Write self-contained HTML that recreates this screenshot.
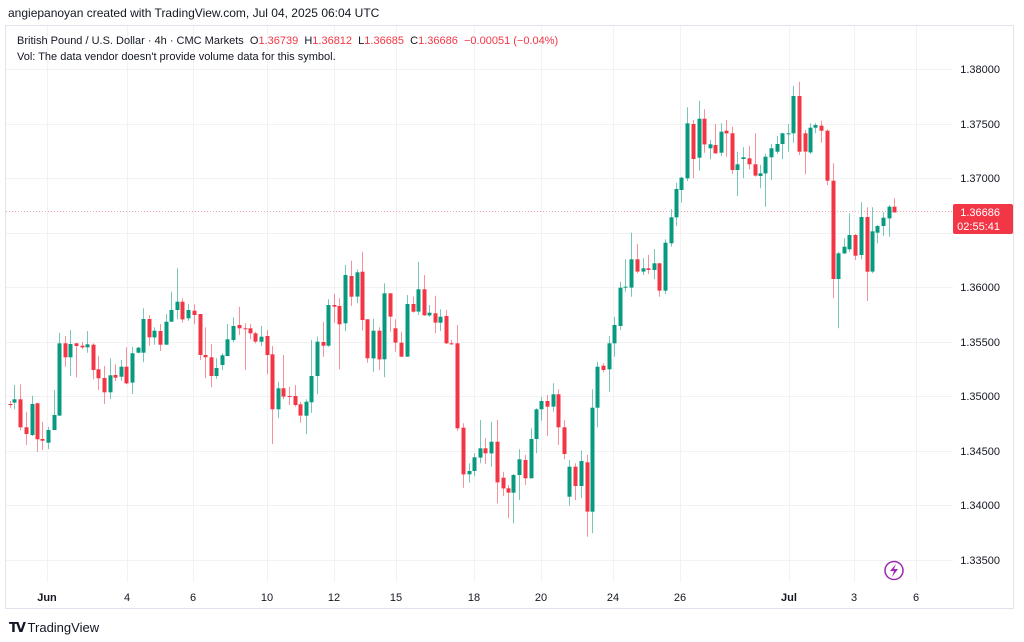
<!DOCTYPE html>
<html><head><meta charset="utf-8"><style>
body{margin:0;width:1024px;height:642px;background:#fff;overflow:hidden;font-family:"Liberation Sans",sans-serif;}
#hdr{position:absolute;left:8px;top:6px;font-size:12px;color:#131722;}
#leg{position:absolute;left:17px;top:33px;font-size:11px;color:#131722;line-height:16px;}
#leg .r{color:#f23645;}
#tv{position:absolute;left:9px;top:620px;font-size:13px;color:#131722;}
svg{position:absolute;left:0;top:0;}
</style></head><body>
<svg id="s" width="1024" height="642" xmlns="http://www.w3.org/2000/svg"></svg>
<div id="hdr">angiepanoyan created with TradingView.com, Jul 04, 2025 06:04 UTC</div>
<div id="leg">British Pound / U.S. Dollar · 4h · CMC Markets &nbsp;O<span class="r">1.36739</span>&nbsp; H<span class="r">1.36812</span>&nbsp; L<span class="r">1.36685</span>&nbsp; C<span class="r">1.36686</span>&nbsp; <span class="r">−0.00051 (−0.04%)</span><br>Vol: The data vendor doesn't provide volume data for this symbol.</div>
<div id="tv"><b style="font-family:'DejaVu Sans';font-weight:900;letter-spacing:-2px">TV</b>&nbsp;TradingView</div>
<script>
var G='#089981',R='#f23645';
var segs=[
[5,250,[[16,'r',462,464],[28,'g',448,458,405,478],[46,'r',448,532,403,540],[62,'r',532,552,485,585],[80,'g',462,555,437,558],[96,'r',460,568,458,605],[112,'r',567,572,515,600],[128,'g',540,578,530,598],[146,'g',495,540,420,540],[162,'g',280,497,248,497],[180,'r',280,322,258,350],[196,'g',282,322,240,378],[212,'r',280,288,278,382],[230,'r',287,292,277,297],[246,'g',283,292,243,308],[264,'r',284,360,280,388],[280,'r',358,385,317,420],[296,'r',384,427,348,462],[314,'g',376,427,325,447],[330,'r',375,383,343,393],[348,'g',350,380,330,392],[364,'r',350,400,292,403],[382,'g',310,398,290,432],[398,'g',293,308,290,310],[414,'g',207,308,175,337],[432,'r',207,262,195,288],[448,'g',242,262,232,284],[464,'r',243,284,222,303],[482,'g',215,284,192,284],[498,'g',180,215,125,215],[516,'g',155,180,55,208],[532,'r',155,208,145,218],[550,'g',180,205,162,212],[566,'r',182,195,163,223],[584,'r',192,315,192,330],[600,'r',315,322,232,385],[618,'r',322,378,282,412],[632,'g',354,378,325,386],[650,'g',316,345,310,360],[666,'g',268,318,222,318]]],
[230,240,[[9,'g',258,300,232,307],[26,'r',255,265,200,285],[44,'r',265,267,250,390],[60,'r',265,280,252,298],[76,'r',280,305,275,310],[92,'g',290,305,258,318],[110,'r',288,345,270,403],[126,'r',343,508,318,612],[144,'g',445,508,425,535],[160,'r',445,470,345,478],[178,'r',468,470,440,495],[194,'r',468,495,435,500],[210,'r',493,527,485,548],[228,'g',485,527,478,583],[244,'g',408,487,300,518],[260,'g',305,408,290,463],[278,'r',306,317,245,350],[294,'g',195,317,178,320],[312,'r',195,200,162,248],[328,'r',198,253,175,388],[346,'g',105,250,75,273],[362,'r',108,170,62,198],[380,'g',97,170,88,190],[396,'r',95,240,35,272],[412,'r',238,355,238,368],[430,'g',272,355,236,395],[446,'r',272,358,262,390],[462,'g',160,358,130,412],[480,'r',160,230,160,275],[496,'r',265,308,238,335],[514,'r',308,350,275,352],[530,'g',192,350,165,350],[548,'r',192,215,170,218],[564,'g',148,215,65,225],[582,'r',148,226,105,228],[598,'g',218,226,195,230],[614,'r',220,248,167,280],[630,'g',230,248,208,273],[648,'r',228,310,210,312],[664,'r',310,312,300,315]]],
[450,220,[[21,'r',370,625,315,633],[38,'r',623,763,610,803],[56,'g',753,763,730,788],[72,'g',712,753,700,768],[90,'g',685,713,600,730],[106,'r',685,700,655,732],[124,'g',665,700,605,740],[142,'r',665,787,600,850],[158,'r',773,805,755,828],[174,'r',805,818,795,895],[190,'g',765,818,762,910],[208,'g',718,765,688,840],[224,'r',720,775,705,795],[242,'g',657,775,625,775],[258,'g',568,657,565,700],[274,'g',543,568,530,602],[290,'r',543,560,525,648],[308,'g',523,560,490,575],[324,'r',523,622,508,675],[342,'r',622,702,600,718],[358,'g',740,830,720,857],[376,'r',740,798,730,840],[392,'g',723,798,692,835],[410,'r',727,875,705,950],[426,'g',563,875,508,940],[442,'g',440,563,425,622],[458,'r',437,450,430,457],[476,'g',370,448,348,515],[492,'g',315,370,290,410],[510,'g',203,318,185,330],[526,'g',200,203,118,215],[544,'g',118,203,38,230],[560,'r',118,155,72,160],[578,'g',145,155,115,165],[594,'r',145,150,105,162],[612,'g',130,150,88,178],[628,'r',130,212,128,230],[644,'g',68,212,58,222]]],
[660,80,[[32,'g',412,490,388,500],[48,'g',327,412,308,438],[64,'g',293,330,290,368],[82,'g',130,295,82,303],[98,'r',132,237,120,295],[116,'g',116,233,62,272],[132,'r',116,193,88,218],[150,'g',193,205,180,238],[166,'r',195,220,132,222],[182,'g',155,218,130,228],[198,'r',152,160,120,230],[216,'r',160,270,140,282],[232,'g',253,270,215,348],[250,'g',232,237,202,295],[266,'r',235,253,198,268],[284,'r',253,287,160,290],[300,'g',280,288,255,325],[316,'g',230,280,222,380],[332,'g',205,232,192,300],[350,'g',192,215,168,222],[366,'g',160,192,158,238],[384,'g',160,162,132,215],[400,'g',48,160,18,188],[418,'r',48,215,5,225],[434,'r',160,215,150,283],[450,'g',143,217,130,222],[466,'g',135,143,130,160],[484,'r',137,152,122,188],[500,'r',152,302,148,315],[518,'r',302,597,250,655],[534,'g',520,597,515,745],[552,'g',500,520,475,522],[568,'g',465,508,400,515],[584,'r',465,527,462,540],[602,'g',411,525,367,538],[620,'r',411,575,382,663],[636,'g',454,575,382,580],[652,'g',438,458,435,490],[668,'g',413,438,397,468],[686,'g',380,415,375,470],[702,'r',380,397,355,398]]]];
var s='';
s+='<rect x="5.5" y="25.5" width="1008" height="583" fill="none" stroke="#e0e3eb"/>';
var ys=[69,124,178,233,287,342,396,451,505,560];
var pl=['1.38000','1.37500','1.37000','1.36500','1.36000','1.35500','1.35000','1.34500','1.34000','1.33500'];
ys.forEach(function(y){s+='<line x1="6" x2="953" y1="'+(y+.5)+'" y2="'+(y+.5)+'" stroke="#f2f2f4"/>';});
var xs=[[47,'Jun',1],[127,'4'],[193,'6'],[267,'10'],[334,'12'],[396,'15'],[474,'18'],[541,'20'],[613,'24'],[680,'26'],[789,'Jul',1],[854,'3'],[916,'6']];
xs.forEach(function(a){s+='<line x1="'+(a[0]+.5)+'" x2="'+(a[0]+.5)+'" y1="26" y2="582" stroke="#f2f2f4"/>';
s+='<text x="'+a[0]+'" y="601" font-size="11" text-anchor="middle" fill="#131722" '+(a[2]?'font-weight="bold"':'')+'>'+a[1]+'</text>';});
ys.forEach(function(y,i){if(i!=3)s+='<text x="1000" y="'+(y+4)+'" font-size="11" text-anchor="end" fill="#131722">'+pl[i]+'</text>';});
s+='<line x1="6" x2="953" y1="211.5" y2="211.5" stroke="#f5a0a8" stroke-dasharray="1,2" stroke-width="1"/>';
segs.forEach(function(sg){var ox=sg[0],oy=sg[1];sg[2].forEach(function(c){
var x=Math.round(ox+c[0]/3),t=oy+c[2]/3,b=oy+c[3]/3,h=oy+(c[4]!=null?c[4]:c[2]-9)/3,l=oy+(c[5]!=null?c[5]:c[3]+9)/3;
var col=c[1]=='g'?G:R;
s+='<line x1="'+(x+.5)+'" x2="'+(x+.5)+'" y1="'+h.toFixed(1)+'" y2="'+l.toFixed(1)+'" stroke="'+col+'" stroke-opacity="0.55"/>';
s+='<rect x="'+(x-1.5)+'" y="'+t.toFixed(1)+'" width="4" height="'+Math.max(1,b-t).toFixed(1)+'" fill="'+col+'"/>';
});});
s+='<rect x="953" y="204" width="60" height="30" rx="2" fill="#f23645"/>';
s+='<text x="1000" y="216" font-size="11" text-anchor="end" fill="#fff">1.36686</text>';
s+='<text x="1000" y="230" font-size="11" text-anchor="end" fill="#fff">02:55:41</text>';
s+='<circle cx="894" cy="570.5" r="9" fill="#fff" stroke="#9c27b0" stroke-width="1.5"/>';
s+='<path d="M896 564 L890 571 L894 571 L892 577 L898 569 L894 569 Z" fill="#9c27b0"/>';
document.getElementById('s').innerHTML=s;
</script>
</body></html>
